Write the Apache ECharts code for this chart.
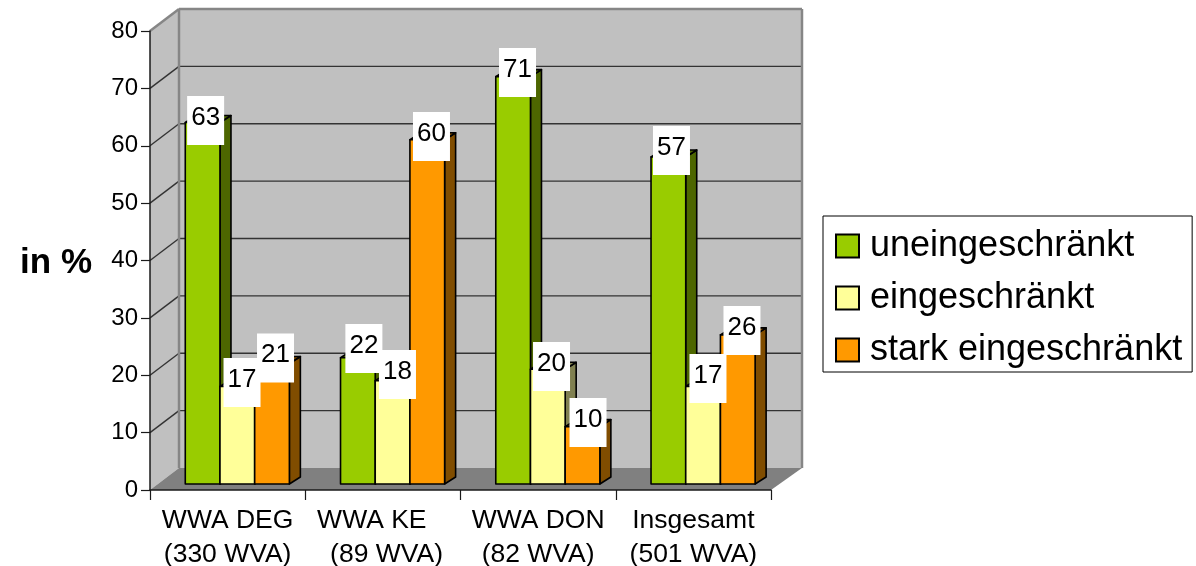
<!DOCTYPE html>
<html>
<head>
<meta charset="utf-8">
<style>
  html, body { margin: 0; padding: 0; background: #fff; }
  #chart { width: 1196px; height: 566px; }
</style>
<script src="https://cdn.jsdelivr.net/npm/echarts@6/dist/echarts.min.js"></script>
</head>
<body>
<div id="chart"></div>
<script>
// Share of waterworks by restriction level, per water authority (in %)
const categories = ['WWA DEG\n(330 WVA)', 'WWA KE   \n (89 WVA)', 'WWA DON\n(82 WVA)', 'Insgesamt\n(501 WVA)'];
const uneingeschraenkt = [63, 22, 71, 57];
const eingeschraenkt = [17, 18, 20, 17];
const starkEingeschraenkt = [21, 60, 10, 26];
const valueTicks = [0, 10, 20, 30, 40, 50, 60, 70, 80];
const seriesNames = ['uneingeschränkt', 'eingeschränkt', 'stark eingeschränkt'];

// Hand placement of the value labels, [dx, dy] per series and category
const labelNudges = [
  [[-2, 3.5], [1, -3.8], [-0.6, 1.4], [-1.9, -1]],
  [[-0.3, 1.5], [-0.1, -0.7], [-1.3, 2.8], [-0.1, -2.5]],
  [[-1.5, 0], [-0.8, 2.2], [0.5, 1.4], [-0.8, 1.2]]
];

const FONT = '"Liberation Sans", Arial, sans-serif';
const faceColors = ['#99CC00', '#FFFF99', '#FF9900'];
const sideColors = ['#4D6600', '#808050', '#804D00'];

// Pseudo-3D geometry, in pixels
const WALL_DX = 29, WALL_DY = -22;
const BAR_LIFT = 6, BAR_SHIFT = 9.7, BAR_W = 34.7, BAR_DX = 11, BAR_DY = -7;
const GRID_COLOR = '#333333', FRAME_COLOR = '#868686';

function renderWalls(params, api) {
  const g = params.coordSys;
  const l = g.x, r = g.x + g.width, t = g.y, b = g.y + g.height;
  const back = { l: l + WALL_DX, r: r + WALL_DX + 2, t: t + WALL_DY, b: b + WALL_DY };
  return {
    type: 'group',
    children: [
      { type: 'polygon', shape: { points: [[l, t], [back.l, back.t], [back.l, back.b], [l, b]] },
        style: { fill: '#C0C0C0' } },
      { type: 'rect', shape: { x: back.l, y: back.t, width: back.r - back.l, height: back.b - back.t },
        style: { fill: '#C0C0C0' } },
      { type: 'polygon', shape: { points: [[l, b], [back.l, back.b], [back.r, back.b], [r, b]] },
        style: { fill: '#808080' } }
    ]
  };
}

function renderGridLine(params, api) {
  const g = params.coordSys;
  const v = api.value(1);
  const y = api.coord([0, v])[1];
  const left = g.x, right = g.x + g.width + WALL_DX + 2;
  const frame = v === 80;
  const stroke = { stroke: frame ? FRAME_COLOR : GRID_COLOR, lineWidth: frame ? 2.5 : 1.4, fill: null };
  const children = [];
  if (v !== 0) {
    children.push({ type: 'line', shape: { x1: left, y1: y, x2: left + WALL_DX, y2: y + WALL_DY }, style: stroke });
    children.push({ type: 'line', shape: { x1: left + WALL_DX, y1: y + WALL_DY, x2: right, y2: y + WALL_DY }, style: stroke });
  }
  if (frame) {
    const bottom = api.coord([0, 0])[1] + WALL_DY;
    children.push({ type: 'line', shape: { x1: left + WALL_DX, y1: y + WALL_DY, x2: left + WALL_DX, y2: bottom }, style: stroke });
    children.push({ type: 'line', shape: { x1: right, y1: y + WALL_DY, x2: right, y2: bottom }, style: stroke });
  }
  return { type: 'group', children };
}

function makeBarRenderer(seriesIndex) {
  return function (params, api) {
    const base = api.coord([api.value(0), 0]);
    const top = api.coord([api.value(0), api.value(1)]);
    const x = base[0] + BAR_SHIFT + (seriesIndex - 1.5) * BAR_W;
    const x2 = x + BAR_W;
    const yb = base[1] - BAR_LIFT;
    const yt = top[1] - BAR_LIFT;
    const edge = { stroke: '#000', lineWidth: 1.6, lineJoin: 'round' };
    return {
      type: 'group',
      children: [
        { type: 'polygon', shape: { points: [[x2, yt], [x2 + BAR_DX, yt + BAR_DY], [x2 + BAR_DX, yb + BAR_DY], [x2, yb]] },
          style: Object.assign({ fill: sideColors[seriesIndex] }, edge) },
        { type: 'polygon', shape: { points: [[x, yt], [x + BAR_DX, yt + BAR_DY], [x2 + BAR_DX, yt + BAR_DY], [x2, yt]] },
          style: Object.assign({ fill: sideColors[seriesIndex] }, edge) },
        { type: 'rect', shape: { x: x, y: yt, width: BAR_W, height: yb - yt },
          style: Object.assign({ fill: faceColors[seriesIndex] }, edge) }
      ]
    };
  };
}

function renderValueLabel(params, api) {
  const c = api.value(0), s = api.value(2);
  const p = api.coord([c, api.value(1)]);
  const nudge = labelNudges[s][c];
  const cx = p[0] + BAR_SHIFT + (s - 1) * BAR_W + 5 + nudge[0];
  const cy = p[1] - BAR_LIFT - 5.5 + nudge[1];
  return {
    type: 'group',
    children: [
      { type: 'rect', shape: { x: cx - 18.5, y: cy - 24.5, width: 37, height: 49 }, style: { fill: '#fff' } },
      { type: 'text', style: { x: cx, y: cy - 3, text: String(api.value(1)), fill: '#000',
          font: '26px ' + FONT, align: 'center', verticalAlign: 'middle' }, z2: 1 }
    ]
  };
}

const valueSets = [uneingeschraenkt, eingeschraenkt, starkEingeschraenkt];
const barSeries = valueSets.map((values, i) => ({
  name: seriesNames[i],
  type: 'custom',
  z: 3 + i,
  renderItem: makeBarRenderer(i),
  encode: { x: 0, y: 1 },
  itemStyle: { color: faceColors[i], borderColor: '#000', borderWidth: 1.6 },
  data: values.map((v, c) => [c, v])
}));
const labelData = [];
valueSets.forEach((values, i) => values.forEach((v, c) => labelData.push([c, v, i])));

const chart = echarts.init(document.getElementById('chart'), null, { renderer: 'canvas' });
chart.setOption({
  animation: false,
  backgroundColor: '#fff',
  textStyle: { fontFamily: FONT },
  grid: { left: 150, top: 31, width: 621, height: 459, outerBoundsMode: 'none' },
  legend: {
    left: 823, top: 216, orient: 'vertical',
    data: seriesNames,
    icon: 'rect', itemWidth: 23, itemHeight: 23, itemGap: 14,
    padding: [11, 10, 3, 12],
    backgroundColor: '#fff', borderColor: '#000', borderWidth: 1, borderRadius: 0,
    textStyle: { fontSize: 36, fontFamily: FONT, color: '#000', lineHeight: 38, padding: [0, 0, 0, 6] },
    selectedMode: false
  },
  xAxis: {
    type: 'category', data: categories, z: 8,
    axisLine: { lineStyle: { color: '#1a1a1a', width: 1.5 } },
    axisTick: { show: true, alignWithLabel: false, length: 10, lineStyle: { color: '#1a1a1a', width: 1.2 } },
    axisLabel: { color: '#000', fontSize: 26.5, fontFamily: FONT, lineHeight: 34, margin: 14, interval: 0 }
  },
  yAxis: {
    type: 'value', min: 0, max: 80, interval: 10, z: 8,
    name: 'in %', nameLocation: 'middle', nameRotate: 0, nameGap: 58,
    nameTextStyle: { fontSize: 35, fontWeight: 'bold', color: '#000', fontFamily: FONT, verticalAlign: 'top', lineHeight: 6 },
    splitLine: { show: false },
    axisLine: { show: true, lineStyle: { color: '#1a1a1a', width: 1.5 } },
    axisTick: { show: true, length: 9, lineStyle: { color: '#1a1a1a', width: 1.2 } },
    axisLabel: { color: '#000', fontSize: 24, fontFamily: FONT, margin: 12 }
  },
  series: [
    { type: 'custom', z: 1, renderItem: renderWalls, data: [[0, 0]], silent: true, encode: { x: 0, y: 1 } },
    { type: 'custom', z: 2, renderItem: renderGridLine, data: valueTicks.map(v => [0, v]), silent: true, encode: { x: 0, y: 1 } },
    ...barSeries,
    { type: 'custom', z: 7, renderItem: renderValueLabel, data: labelData, silent: true, encode: { x: 0, y: 1 } }
  ]
});
</script>
</body>
</html>
